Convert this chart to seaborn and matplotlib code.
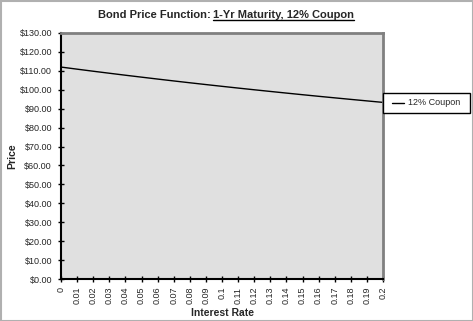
import matplotlib
matplotlib.use("Agg")
import matplotlib.pyplot as plt
import seaborn as sns
import pandas as pd
from matplotlib.patches import Rectangle
from matplotlib.lines import Line2D

sns.set_theme(style="white")
plt.rcParams['font.family'] = ['Liberation Sans', 'DejaVu Sans']

rates = [0, 0.01, 0.02, 0.03, 0.04, 0.05, 0.06, 0.07, 0.08, 0.09, 0.1,
         0.11, 0.12, 0.13, 0.14, 0.15, 0.16, 0.17, 0.18, 0.19, 0.2]
rate_labels = ["0", "0.01", "0.02", "0.03", "0.04", "0.05", "0.06", "0.07", "0.08", "0.09", "0.1",
               "0.11", "0.12", "0.13", "0.14", "0.15", "0.16", "0.17", "0.18", "0.19", "0.2"]
prices = [112.00, 110.89, 109.80, 108.74, 107.69, 106.67, 105.66, 104.67, 103.70, 102.75, 101.82,
          100.90, 100.00, 99.12, 98.25, 97.39, 96.55, 95.73, 94.92, 94.12, 93.33]
y_ticks = [0, 10, 20, 30, 40, 50, 60, 70, 80, 90, 100, 110, 120, 130]
series_name = "12% Coupon"

df = pd.DataFrame({"Interest Rate": rates, "Price": prices})

W, H = 473, 321
fig = plt.figure(figsize=(W / 100, H / 100), dpi=100)
fig.patch.set_facecolor("white")

left, right, top, bottom = 61, 383, 33, 279
ax = fig.add_axes([left / W, 1 - bottom / H, (right - left) / W, (bottom - top) / H])
ax.set_facecolor("#e0e0e0")

sns.lineplot(data=df, x="Interest Rate", y="Price", ax=ax, color="black", linewidth=1.0,
             legend=False)

ax.set_xlim(0, 0.2)
ax.set_ylim(0, 130)
ax.set_xticks(rates)
ax.set_xticklabels(rate_labels, rotation=90, fontsize=6.5)
ax.set_yticks(y_ticks)
ax.set_yticklabels([f"${v:.2f}" for v in y_ticks], fontsize=6.5)
ax.tick_params(axis="both", direction="inout", length=5, width=1, color="black", pad=3,
               left=True, bottom=True)
ax.tick_params(axis="y", pad=4)

for side in ["left", "bottom"]:
    ax.spines[side].set_color("black")
    ax.spines[side].set_linewidth(1.5)
for side in ["top", "right"]:
    ax.spines[side].set_color("#808080")
    ax.spines[side].set_linewidth(2)
    ax.spines[side].set_visible(True)

ax.set_xlabel("")
ax.set_ylabel("")

fig.text(222 / W, 1 - 313 / H, "Interest Rate", ha="center", va="center",
         fontsize=7.5, fontweight="bold")
fig.text(12 / W, 1 - 156 / H, "Price", ha="center", va="center", rotation=90,
         fontsize=7.5, fontweight="bold")

# Title with underlined part
fig.canvas.draw()
r = fig.canvas.get_renderer()
t1 = fig.text(0, 0, "Bond Price Function: ", fontsize=8, fontweight="bold", va="baseline")
t2 = fig.text(0, 0, "1-Yr Maturity, 12% Coupon", fontsize=8, fontweight="bold", va="baseline")
w1 = t1.get_window_extent(r).width
w2 = t2.get_window_extent(r).width
total = w1 + w2
cx = 226
x0 = cx - total / 2
base_y = H - 18
t1.set_position((x0 / W, base_y / H))
t2.set_position(((x0 + w1) / W, base_y / H))
fig.add_artist(Line2D([(x0 + w1) / W, (x0 + w1 + w2) / W], [(base_y - 2) / H, (base_y - 2) / H],
                      color="black", linewidth=1, transform=fig.transFigure))

# Legend box
lx0, ly0, lx1, ly1 = 383, 93, 470, 113
fig.add_artist(Rectangle((lx0 / W, 1 - ly1 / H), (lx1 - lx0) / W, (ly1 - ly0) / H,
                         transform=fig.transFigure, facecolor="white", edgecolor="black",
                         linewidth=1))
ymid = 1 - 103 / H
fig.add_artist(Line2D([392 / W, 404 / W], [ymid, ymid], color="black", linewidth=1,
                      transform=fig.transFigure))
fig.text(408 / W, ymid, series_name, fontsize=6.5, va="center", ha="left")

# Outer border
fig.add_artist(Rectangle((0.5 / W, 0.5 / H), (W - 1) / W, (H - 1) / H, transform=fig.transFigure,
                         facecolor="none", edgecolor="#b0b0b0", linewidth=1.5))

fig.savefig("out.png", dpi=100)
